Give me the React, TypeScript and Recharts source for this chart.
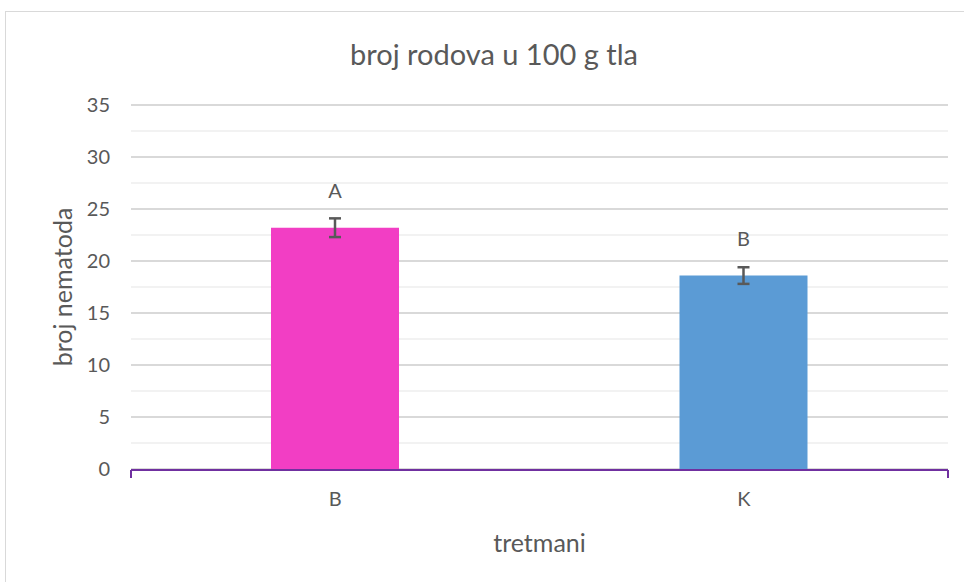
import { Bar, BarChart, CartesianGrid, Cell, ErrorBar, LabelList, XAxis, YAxis } from 'recharts';

const categories = ['B', 'K'];
const means = [23.2, 18.6];
const errors = [0.9, 0.8];
const letters = ['A', 'B'];
const COLORS = ['#f23ec4', '#5b9bd5'];
const Y_MAX = 35;
const yTicks = [0, 5, 10, 15, 20, 25, 30, 35];
const minorTicks = [2.5, 7.5, 12.5, 17.5, 22.5, 27.5, 32.5];
const edgeTicks = [0, 1, 2];

const data = categories.map((c, i) => ({ name: c, value: means[i], err: errors[i], letter: letters[i] }));

const FONT = 'Lato, "Open Sans", sans-serif';
const GRAY = '#595959';
const PURPLE = '#7030a0';

// minor gridlines halfway between the major ticks
const minorLines = ({ yAxis, offset }: any) =>
  minorTicks.map((t) =>
    typeof yAxis?.scale === 'function' ? yAxis.scale(t) : offset.top + offset.height * (1 - t / Y_MAX));

export default function App() {
  return (
    <div style={{ position: 'absolute', left: 0, top: 0, width: 964, height: 582, overflow: 'hidden', background: '#fff', fontFamily: FONT }}>
      <div style={{ position: 'absolute', left: 5, top: 11, width: 1000, height: 600, border: '1px solid #d9d9d9' }} />
      <div style={{ position: 'absolute', left: 0, width: 988, top: 36, textAlign: 'center', fontSize: 29, lineHeight: '36px', color: GRAY }}>
        broj rodova u 100 g tla
      </div>
      <div style={{ position: 'absolute', left: 0, top: 0 }}>
        <BarChart width={964} height={582} data={data} margin={{ top: 105, right: 16, bottom: 8, left: 0 }}>
          <CartesianGrid vertical={false} stroke="#f2f2f2" strokeWidth={2} horizontalCoordinatesGenerator={minorLines} />
          <CartesianGrid vertical={false} stroke="#d9d9d9" strokeWidth={2} />
          {/* category labels; tiny height so the edge axis sits right on the plot */}
          <XAxis dataKey="name" height={1} axisLine={false} tickLine={false} tickSize={0} tickMargin={23}
            tick={{ fill: GRAY, fontSize: 20, fontFamily: FONT }} />
          <XAxis xAxisId="edge" type="number" domain={[0, 2]} ticks={edgeTicks} height={104}
            axisLine={{ stroke: PURPLE, strokeWidth: 2 }} tickLine={{ stroke: PURPLE, strokeWidth: 2 }} tickSize={8}
            tickFormatter={() => ''} tick={{ fontSize: 1 }}
            label={{ content: (p: any) => (
              <text x={p.viewBox.x + p.viewBox.width / 2} y={p.viewBox.y + 72} textAnchor="middle" dominantBaseline="central"
                fill={GRAY} fontSize={25} fontFamily={FONT}>tretmani</text>
            ) }} />
          <YAxis width={131} domain={[0, Y_MAX]} ticks={yTicks} axisLine={false} tickLine={false} tickSize={0} tickMargin={21}
            tick={{ fill: GRAY, fontSize: 20, fontFamily: FONT }}
            label={{ content: (p: any) => (
              <text x={62} y={p.viewBox.y + p.viewBox.height / 2} textAnchor="middle" dominantBaseline="central"
                transform={`rotate(-90 62 ${p.viewBox.y + p.viewBox.height / 2})`}
                fill={GRAY} fontSize={25} fontFamily={FONT}>broj nematoda</text>
            ) }} />
          <Bar dataKey="value" barSize={128} isAnimationActive={false}>
            {data.map((_, i) => <Cell key={i} fill={COLORS[i]} />)}
            <ErrorBar dataKey="err" width={6} stroke={GRAY} strokeWidth={2.5} />
            <LabelList dataKey="letter" position="top" offset={30} fill={GRAY} fontSize={20} fontFamily={FONT} />
          </Bar>
        </BarChart>
      </div>
    </div>
  );
}
